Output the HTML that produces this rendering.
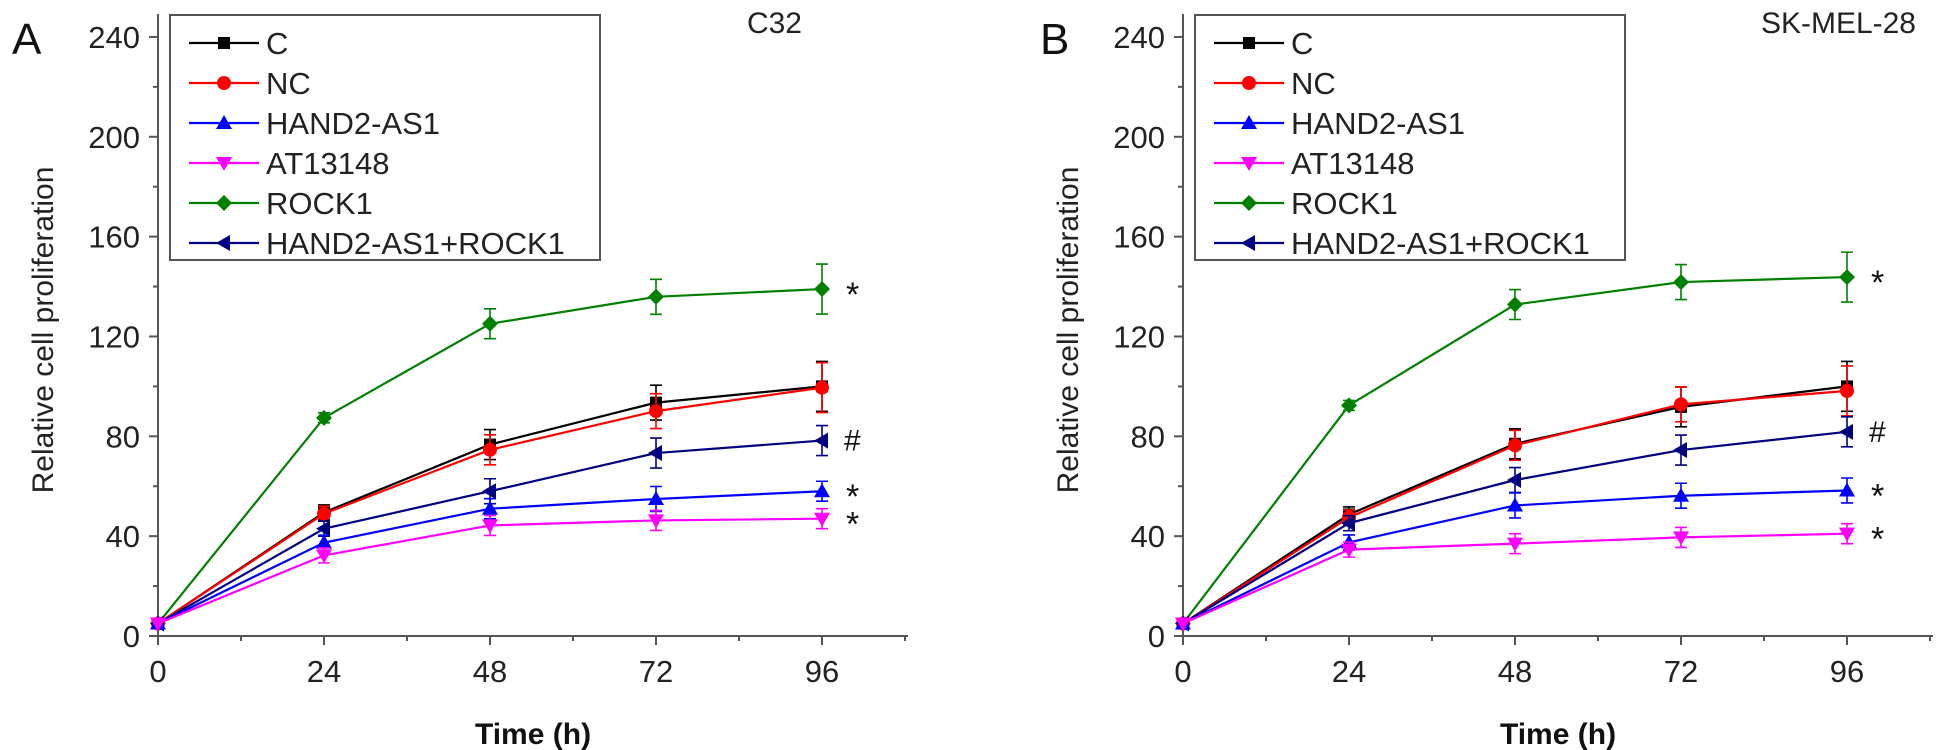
<!DOCTYPE html>
<html><head><meta charset="utf-8"><style>
html,body{margin:0;padding:0;background:#fff;}
svg{display:block;font-family:"Liberation Sans",Arial,sans-serif;}
</style></head><body>
<svg id="fig" width="1957" height="750" viewBox="0 0 1957 750"></svg>
<script>
const timePoints=[0,24,48,72,96];
const seriesNames=["C","NC","HAND2-AS1","AT13148","ROCK1","HAND2-AS1+ROCK1"];
const yTicks=[0,40,80,120,160,200,240];
const xTicks=[0,24,48,72,96];
// Panel A (C32)
const a_C=[5,49.5,76.7,93.5,100];
const a_NC=[5,49,74.6,90.1,99.5];
const a_HAND2=[5,37.4,51,54.9,58];
const a_AT=[5,32.3,44.3,46.3,47];
const a_ROCK1=[5,87.4,125.1,135.9,139];
const a_HR=[5,43,58,73.3,78.3];
const a_errC=[0,3,6,7,10];
const a_errNC=[0,3,6,7,10];
const a_errHAND2=[0,3,4,5,4];
const a_errAT=[0,3,4,4,4];
const a_errROCK1=[0,2,6,7,10];
const a_errHR=[0,3,5,6,6];
const sigMarks=["","","*","*","*","#"];
// Panel B (SK-MEL-28)
const b_C=[5,48.7,77,91.8,100];
const b_NC=[5,47.5,76.4,92.8,98.2];
const b_HAND2=[5,37.5,52.3,56.2,58.3];
const b_AT=[5,34.6,37,39.5,41];
const b_ROCK1=[5,92.4,132.8,141.8,143.8];
const b_HR=[5,45.2,62.5,74.5,81.8];
const b_errC=[0,3,6,8,10];
const b_errNC=[0,3,6,7,10];
const b_errHAND2=[0,3,5,5,5];
const b_errAT=[0,3,4,4,4];
const b_errROCK1=[0,2,6,7,10];
const b_errHR=[0,3,5,6,6];

const NS="http://www.w3.org/2000/svg";
const svg=document.getElementById('fig');
function mk(tag,attrs,parent){const e=document.createElementNS(NS,tag);for(const k in attrs)e.setAttribute(k,attrs[k]);(parent||svg).appendChild(e);return e;}
const colors=["#000000","#ff0000","#0000ff","#ff00ff","#008000","#000080"];
const shapes=["square","circle","up","down","diamond","left"];
function marker(g,shape,cx,cy,col){
  const s=7;let e;
  if(shape==="square")e=mk('rect',{x:cx-s+1,y:cy-s+1,width:2*s-2,height:2*s-2,fill:col},g);
  else if(shape==="circle")e=mk('circle',{cx:cx,cy:cy,r:s,fill:col},g);
  else{let p;
    if(shape==="up")p=[[cx,cy-s-1],[cx+s+1,cy+s-1],[cx-s-1,cy+s-1]];
    else if(shape==="down")p=[[cx,cy+s+1],[cx+s+1,cy-s+1],[cx-s-1,cy-s+1]];
    else if(shape==="diamond")p=[[cx,cy-s-1],[cx+s+1,cy],[cx,cy+s+1],[cx-s-1,cy]];
    else p=[[cx-s-1,cy],[cx+s-1,cy-s-1],[cx+s-1,cy+s+1]];
    e=mk('polygon',{points:p.map(q=>q.join(',')).join(' '),fill:col},g);}
  return e;
}
function panel(opt){
  const ax=opt.ax, y0=636, pxu=2.496, pxh=(166/24);
  const X=t=>ax+t*pxh, Y=v=>y0-v*pxu;
  const g=mk('g',{});
  
  
  const axes=mk('g',{stroke:'#555','stroke-width':2},g);
  
  
  mk('line',{x1:ax,y1:14,x2:ax,y2:y0+1},axes);
  mk('line',{x1:ax-1,y1:y0,x2:ax+750,y2:y0},axes);
  for(let v=0;v<=240;v+=20){const big=v%40===0;mk('line',{x1:ax-(big?9:5),y1:Y(v),x2:ax,y2:Y(v)},axes);}
  for(let t=0;t<=108;t+=12){const big=t%24===0;mk('line',{x1:X(t),y1:y0,x2:X(t),y2:y0+(big?9:5)},axes);}
  yTicks.forEach(v=>{const t=mk('text',{x:ax-18,y:Y(v)+11,'text-anchor':'end','font-size':31,fill:'#222'},g);t.textContent=v;
    });
  xTicks.forEach(v=>{const t=mk('text',{x:X(v),y:682,'text-anchor':'middle','font-size':31,fill:'#222'},g);t.textContent=v;
    });
  const xt=mk('text',{x:ax+375,y:744,'text-anchor':'middle','font-size':30,'font-weight':'bold',fill:'#111'},g);
  xt.textContent='Time (h)';
  
  const yt=mk('text',{x:0,y:0,'text-anchor':'middle','font-size':30,fill:'#222',transform:`translate(${ax-105},330) rotate(-90)`},g);
  yt.textContent='Relative cell proliferation';
  
  const pl=mk('text',{x:opt.letterX,y:54,'font-size':44,fill:'#111'},g);pl.textContent=opt.letter;
  
  const ti=mk('text',{x:opt.titleX,y:33,'text-anchor':'end','font-size':30,fill:'#222'},g);ti.textContent=opt.title;
  
  const order=[4,0,1,5,2,3];
  order.forEach(i=>{
    const vals=opt.data[i],errs=opt.err[i],col=colors[i];
    const sg=mk('g',{},g);
    
    
    mk('polyline',{points:vals.map((v,k)=>X(timePoints[k])+','+Y(v)).join(' '),fill:'none',stroke:col,'stroke-width':2.2},sg);
    vals.forEach((v,k)=>{
      if(errs[k]>0){const x=X(timePoints[k]);
        mk('path',{d:`M${x},${Y(v+errs[k])}V${Y(v-errs[k])}M${x-6},${Y(v+errs[k])}H${x+6}M${x-6},${Y(v-errs[k])}H${x+6}`,stroke:col,'stroke-width':1.6,fill:'none'},sg);}
      const m=marker(sg,shapes[i],X(timePoints[k]),Y(v),col);
      
      
    });
  });
  opt.marks.forEach((s,i)=>{if(!s)return;const v=opt.data[i][4];
    const t=mk('text',{x:X(96)+(s==='#'?22:24),y:Y(v)+(s==='#'?10:17),'font-size':s==='#'?30:34,fill:'#111'},g);t.textContent=s;
    });
  const lg=mk('g',{},g);
  
  mk('rect',{x:ax+12,y:15,width:430,height:245,fill:'#fff',stroke:'#555','stroke-width':2},lg);
  seriesNames.forEach((n,i)=>{const y=43+i*40,col=colors[i];
    const eg=mk('g',{},lg);
    
    mk('line',{x1:ax+31,y1:y,x2:ax+101,y2:y,stroke:col,'stroke-width':2.2},eg);
    marker(eg,shapes[i],ax+66,y,col);
    const t=mk('text',{x:ax+108,y:y+11,'font-size':31,fill:'#222'},eg);t.textContent=n;});
}
panel({id:'c32',ax:158,letter:'A',letterX:12,title:'C32',titleX:802,
  data:[a_C,a_NC,a_HAND2,a_AT,a_ROCK1,a_HR],err:[a_errC,a_errNC,a_errHAND2,a_errAT,a_errROCK1,a_errHR],marks:sigMarks});
panel({id:'sk-mel-28',ax:1183,letter:'B',letterX:1040,title:'SK-MEL-28',titleX:1916,
  data:[b_C,b_NC,b_HAND2,b_AT,b_ROCK1,b_HR],err:[b_errC,b_errNC,b_errHAND2,b_errAT,b_errROCK1,b_errHR],marks:sigMarks});
</script>
</body></html>
